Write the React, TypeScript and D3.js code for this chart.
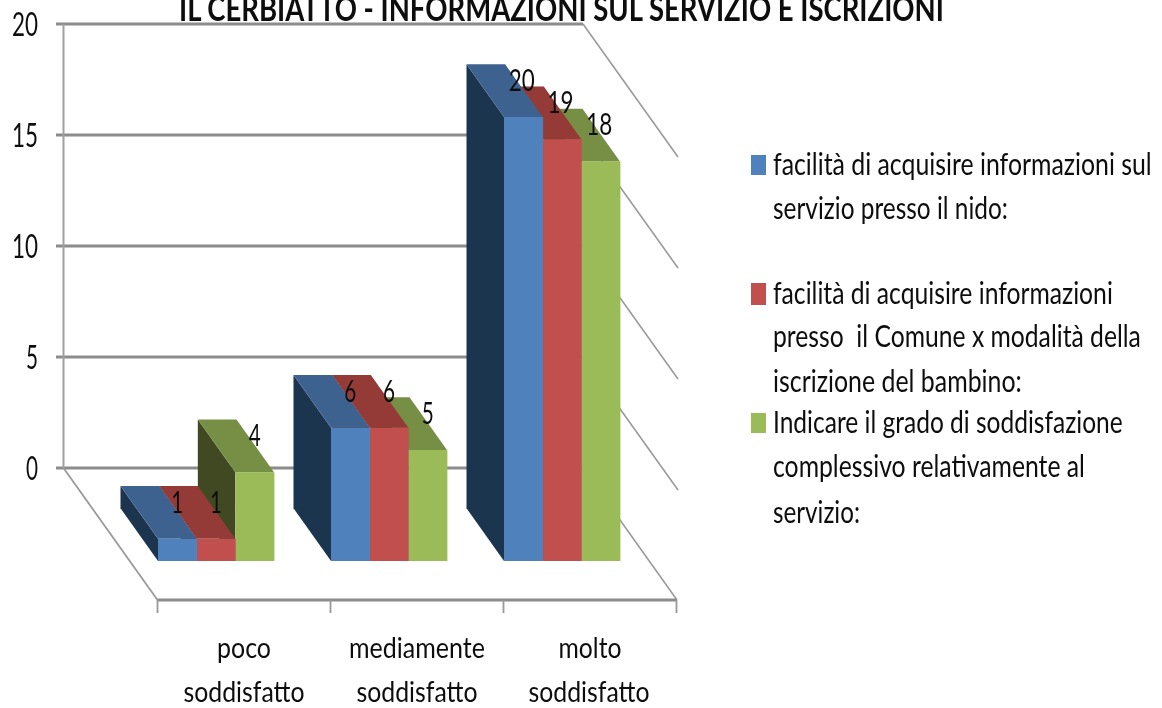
import React from "react";
import * as d3 from "d3";

const categories = ["poco", "mediamente", "molto"];
const categorySecondLine = ["soddisfatto", "soddisfatto", "soddisfatto"];
const blueValues = [1, 6, 20];
const redValues = [1, 6, 19];
const greenValues = [4, 5, 18];
const yTicks = [0, 5, 10, 15, 20];
const titleText = "IL CERBIATTO - INFORMAZIONI SUL SERVIZIO E ISCRIZIONI";
const legendBlue = ["facilità di acquisire informazioni sul", "servizio presso il nido:"];
const legendRed = ["facilità di acquisire informazioni", "presso  il Comune x modalità della", "iscrizione del bambino:"];
const legendGreen = ["Indicare il grado di soddisfazione", "complessivo relativamente al", "servizio:"];

const W = 1162, H = 708;
const FONT = "Lato, Carlito, 'Open Sans', sans-serif";
const depthX = 94, depthY = 132;
const barDepthX = 37.5, barDepthY = 52.7;
const yBack = d3.scaleLinear().domain([0, 20]).range([468, 24]);
const barBase = 561;
const yBar = d3.scaleLinear().domain([0, 20]).range([barBase, barBase - 444]);
const xCat = d3.scaleBand<number>().domain([0, 1, 2]).range([158, 677]).padding(0);
const xSeries = d3.scaleBand<number>().domain([0, 1, 2]).range([0, 116]).padding(0);
const backLeft = 63.5, backRight = 583;

const series = [
  { values: blueValues, front: "#4F81BD", top: "#3D6290", side: "#1F3550" },
  { values: redValues, front: "#C0504D", top: "#943B39", side: "#5e2523" },
  { values: greenValues, front: "#9BBB59", top: "#778F45", side: "#3F4A20" },
];
const legendGroups = [
  { lines: legendBlue, color: "#4F81BD", box: [155, 175], baselines: [175, 219], widths: [379, 235] },
  { lines: legendRed, color: "#C0504D", box: [283, 305], baselines: [304, 347, 392], widths: [340, 368, 249] },
  { lines: legendGreen, color: "#9BBB59", box: [413, 433], baselines: [433, 477, 523], widths: [350, 312, 87] },
];
const catWidths = [54, 136, 63];
const catCenters = [244, 417, 590];
const catSecondCenters = [244, 417, 589];

const measureCtx = document.createElement("canvas").getContext("2d")!;

function T({ x, y, w, anchor = "start", size = 31, weight = 400, children }: any) {
  const s = String(children);
  measureCtx.font = `${weight} ${size}px ${FONT}`;
  const natural = measureCtx.measureText(s).width || w;
  const k = w / natural;
  return (
    <text transform={`translate(${x},${y}) scale(${k},1)`} textAnchor={anchor} fontFamily={FONT} fontSize={size} fontWeight={weight}
      fill="#111" style={{ whiteSpace: "pre" }}>{s}</text>
  );
}

export default function App() {
  const boxes: React.ReactNode[] = [];
  categories.forEach((_, c) => {
    [2, 1, 0].forEach((s) => {
      const v = series[s].values[c];
      const x0 = xCat(c)! + xSeries(s)!;
      const x1 = x0 + xSeries.bandwidth();
      const yt = yBar(v);
      const p = (pts: number[][]) => pts.map((q) => q.join(",")).join(" ");
      boxes.push(
        <g key={`${c}-${s}`}>
          <polygon points={p([[x0 - barDepthX, yt - barDepthY], [x0, yt], [x0, barBase], [x0 - barDepthX, barBase - barDepthY]])} fill={series[s].side} />
          <polygon points={p([[x0 - barDepthX, yt - barDepthY], [x1 - barDepthX, yt - barDepthY], [x1, yt], [x0, yt]])} fill={series[s].top} />
          <rect x={x0} y={yt} width={x1 - x0 + 0.4} height={barBase - yt} fill={series[s].front} />
        </g>
      );
    });
  });

  return (
    <svg width={W} height={H} viewBox={`0 0 ${W} ${H}`} style={{ position: "absolute", left: 0, top: 0, display: "block" }}>
      <defs>
        <filter id="soft" x="-5%" y="-5%" width="110%" height="110%"><feGaussianBlur stdDeviation="0.55" /></filter>
        <filter id="softer" x="-5%" y="-5%" width="110%" height="110%"><feGaussianBlur stdDeviation="0.4" /></filter>
      </defs>
      <rect width={W} height={H} fill="#fff" />
      <g filter="url(#softer)">
        {yTicks.map((t) => (
          <g key={t}>
            <line x1={backRight} y1={yBack(t)} x2={t === 0 ? backRight + depthX : backRight + depthX + 1} y2={yBack(t) + depthY + (t === 0 ? 0 : 1)} stroke="#9a9a9a" strokeWidth={1.6} />
            <line x1={56} y1={yBack(t)} x2={backRight} y2={yBack(t)} stroke="#8c8c8c" strokeWidth={3} />
          </g>
        ))}
        <line x1={backLeft} y1={yBack(20)} x2={backLeft} y2={yBack(0)} stroke="#a0a0a0" strokeWidth={2} />
        <line x1={backLeft} y1={yBack(0)} x2={backLeft + depthX} y2={yBack(0) + depthY} stroke="#9a9a9a" strokeWidth={1.8} />
        <line x1={backLeft + depthX} y1={yBack(0) + depthY} x2={676.5} y2={yBack(0) + depthY} stroke="#8c8c8c" strokeWidth={3} />
        {[0, 1, 2, 3].map((i) => {
          const x = i < 3 ? xCat(i)! - 0.5 : 676.5;
          return <line key={i} x1={x} y1={600} x2={x} y2={613} stroke="#999" strokeWidth={1.8} />;
        })}
      </g>
      <g filter="url(#softer)">{boxes}</g>
      <g filter="url(#soft)">
        <T x={179} y={20.5} w={767} size={34} weight={700}>{titleText}</T>
        {yTicks.map((t) => (
          <T key={t} x={38} y={yBack(t) + 12} w={t >= 10 ? 26 : 12} anchor="end" size={32}>{t}</T>
        ))}
        {series.map((s, si) =>
          s.values.map((v, c) => (
            <T key={`${si}-${c}`} x={xCat(c)! + xSeries(si)! + xSeries.bandwidth() / 2 - (c === 2 ? 1.5 : 0)} y={yBar(v) - 26} w={v >= 10 ? 26 : 12} anchor="middle" size={31}>{v}</T>
          ))
        )}
        {categories.map((c, i) => (
          <g key={c}>
            <T x={catCenters[i]} y={658} w={catWidths[i]} anchor="middle" size={29}>{c}</T>
            <T x={catSecondCenters[i]} y={702} w={121} anchor="middle" size={29}>{categorySecondLine[i]}</T>
          </g>
        ))}
        {legendGroups.map((g) => (
          <g key={g.color}>
            <rect x={751} y={g.box[0]} width={15} height={g.box[1] - g.box[0]} fill={g.color} />
            {g.lines.map((l, i) => (
              <T key={l} x={773} y={g.baselines[i]} w={g.widths[i]}>{l}</T>
            ))}
          </g>
        ))}
      </g>
    </svg>
  );
}
